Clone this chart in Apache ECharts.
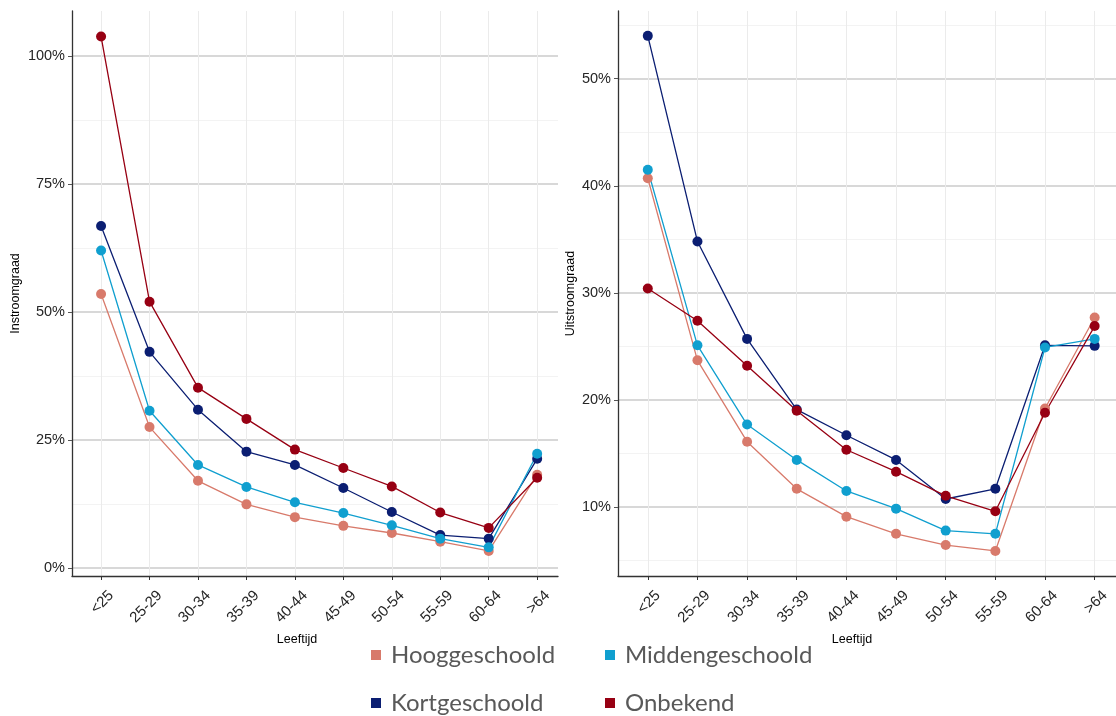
<!DOCTYPE html>
<html><head><meta charset="utf-8">
<script src="https://cdn.jsdelivr.net/npm/echarts@6/dist/echarts.min.js"></script>
<style>html,body{margin:0;padding:0;background:#fff}#c{width:1116px;height:716px}</style>
</head><body><div id="c"></div>
<script>
// ---- data ----
const categories = ['<25','25-29','30-34','35-39','40-44','45-49','50-54','55-59','60-64','>64'];
const seriesNames = ['Hooggeschoold','Middengeschoold','Kortgeschoold','Onbekend'];
const seriesColors = ['#D87A6B','#109FCF','#0B1E72','#970013'];

// Instroomgraad (%)
const inHoog    = [53.5, 27.5, 17.0, 12.4,  9.9,  8.2,  6.8,  5.1, 3.3, 18.2];
const inMidden  = [62.0, 30.7, 20.1, 15.8, 12.8, 10.7,  8.3,  5.7, 4.0, 22.3];
const inKort    = [66.8, 42.2, 30.9, 22.7, 20.1, 15.6, 10.9,  6.4, 5.7, 21.3];
const inOnbekend= [103.8, 52.0, 35.2, 29.1, 23.1, 19.5, 15.9, 10.8, 7.8, 17.6];

// Uitstroomgraad (%)
const outHoog    = [40.7, 23.7, 16.1, 11.7,  9.1,  7.5,  6.45, 5.9, 19.2, 27.7];
const outMidden  = [41.5, 25.1, 17.7, 14.4, 11.5,  9.85, 7.8,  7.5, 24.9, 25.7];
const outKort    = [54.0, 34.8, 25.7, 19.1, 16.7, 14.4, 10.75, 11.7, 25.1, 25.05];
const outOnbekend= [30.4, 27.4, 23.2, 19.0, 15.35, 13.3, 11.05, 9.6, 18.8, 26.9];

// tick labels
const inTicks  = [0, 25, 50, 75, 100];
const inMinor  = [12.5, 37.5, 62.5, 87.5];
const outTicks = [10, 20, 30, 40, 50];
const outMinor = [5, 15, 25, 35, 45, 55];

// ---- chart ----
const catIdx = categories.map((c, i) => i);
const inData  = [inHoog, inMidden, inKort, inOnbekend];
const outData = [outHoog, outMidden, outKort, outOnbekend];
const drawOrder = [0, 2, 1, 3];
const FONT = 'Liberation Sans, Arial, sans-serif';

function xAxisFor(grid, padRight) {
  return {
    type: 'value', gridIndex: grid, min: -0.6, max: 9.43,
    axisLine: {show: true, onZero: false, lineStyle: {color: '#333', width: 1.3}},
    axisTick: {show: true, customValues: catIdx, length: 4, lineStyle: {color: '#333', width: 1}},
    axisLabel: {customValues: catIdx, formatter: v => categories[Math.round(v)], rotate: 45,
      fontSize: 15, color: '#262626', margin: 7, fontFamily: FONT,
      verticalAlign: 'top', padding: [7, 0, 0, 0]},
    splitLine: {show: true, lineStyle: {color: '#ebebeb', width: 1}},
    name: 'Leeftijd', nameLocation: 'middle', nameGap: 52,
    nameTextStyle: {fontSize: 12.5, color: '#000', fontFamily: FONT, padding: [0, padRight, 0, 0]}
  };
}
function yAxisFor(grid, min, max, ticks, name, gap) {
  return {
    type: 'value', gridIndex: grid, min: min, max: max,
    axisLine: {show: true, onZero: false, lineStyle: {color: '#333', width: 1.3}},
    axisTick: {show: true, customValues: ticks, length: 4, lineStyle: {color: '#555', width: 1}},
    axisLabel: {customValues: ticks, formatter: v => v + '%', fontSize: 14.5, color: '#262626', margin: 7,
      fontFamily: FONT},
    splitLine: {show: true, lineStyle: {color: '#cbcbcb', width: 1.5}},
    name: name, nameLocation: 'middle', nameGap: gap, nameRotate: 90,
    nameTextStyle: {fontSize: 12.5, color: '#000', fontFamily: FONT}
  };
}
function minorAxisFor(grid, min, max, ticks) {
  return {
    type: 'value', gridIndex: grid, min: min, max: max,
    axisLine: {show: false, onZero: false}, axisLabel: {show: false},
    axisTick: {show: false, customValues: ticks},
    splitLine: {show: true, lineStyle: {color: '#f3f3f3', width: 1}}
  };
}

const series = [];
[[inData, 0, 0], [outData, 1, 1]].forEach(([data, xi, yi]) => {
  drawOrder.forEach(k => {
    series.push({
      name: seriesNames[k], type: 'line', xAxisIndex: xi, yAxisIndex: yi,
      data: data[k].map((v, i) => [i, v]),
      symbol: 'circle', symbolSize: 10, color: seriesColors[k],
      itemStyle: {color: seriesColors[k]},
      lineStyle: {color: seriesColors[k], width: 1.3},
      emphasis: {disabled: true}, animation: false
    });
  });
});

function legendFor(name, left, top) {
  return {
    data: [name], left: left, top: top, padding: 0, itemGap: 0,
    itemWidth: 10, itemHeight: 10, icon: 'rect', selectedMode: false,
    textStyle: {fontSize: 24, color: '#595959', fontFamily: 'Lato, Open Sans, sans-serif', padding: [0, 0, 0, 5]}
  };
}

const option = {
  backgroundColor: '#fff',
  animation: false,
  grid: [
    {left: 72, top: 11, width: 486, height: 565},
    {left: 618, top: 11, width: 498, height: 565}
  ],
  xAxis: [xAxisFor(0, 36), xAxisFor(1, 30)],
  yAxis: [
    yAxisFor(0, -1.6, 108.8, inTicks, 'Instroomgraad', 50),
    yAxisFor(1, 3.56, 56.32, outTicks, 'Uitstroomgraad', 41),
    minorAxisFor(0, -1.6, 108.8, inMinor),
    minorAxisFor(1, 3.56, 56.32, outMinor)
  ],
  legend: [
    legendFor('Hooggeschoold', 371, 643),
    legendFor('Middengeschoold', 605, 643),
    legendFor('Kortgeschoold', 371, 691),
    legendFor('Onbekend', 605, 691)
  ],
  series: series
};
const chart = echarts.init(document.getElementById('c'), null, {renderer: 'canvas'});
chart.setOption(option);
</script>
</body></html>
